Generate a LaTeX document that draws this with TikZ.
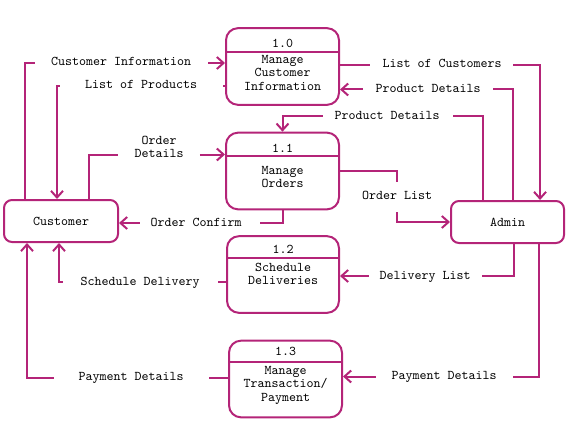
\documentclass[tikz,border=0pt]{standalone}
\usetikzlibrary{arrows.meta,calc}
\definecolor{dfd}{RGB}{180,36,120}
\begin{document}
\begin{tikzpicture}[x=0.75pt,y=-0.75pt,
  every node/.style={font=\ttfamily\fontsize{10}{10.1}\selectfont, text=black},
  procbox/.style={draw=dfd, line width=1.5pt, rounded corners=9pt, fill=white, minimum width=84.75pt, minimum height=57.5pt, inner sep=0pt},
  entbox/.style={draw=dfd, line width=1.5pt, rounded corners=6pt, fill=white, minimum height=31.5pt, inner sep=0pt},
  flow/.style={draw=dfd, line width=1.5pt},
  arr/.style={flow, -{Straight Barb[length=5pt,width=9pt]}},
  lbl/.style={inner sep=0pt, text height=6pt, text depth=1.5pt, align=center},
  txt/.style={inner sep=0pt, align=center}]
\useasboundingbox (0,0) rectangle (578,428);

% processes
\node[procbox] (p10) at (282.5,66.5) {};
\node[procbox] (p11) at (282.5,171) {};
\node[procbox, minimum width=84pt] (p12) at (283,274.5) {};
\node[procbox] (p13) at (285.5,379) {};
\draw[flow] ([yshift=-18.75pt]p10.north west) -- ([yshift=-18.75pt]p10.north east);
\draw[flow] ([yshift=-18pt]p11.north west) -- ([yshift=-18pt]p11.north east);
\draw[flow] ([yshift=-17.25pt]p12.north west) -- ([yshift=-17.25pt]p12.north east);
\draw[flow] ([yshift=-16.5pt]p13.north west) -- ([yshift=-16.5pt]p13.north east);
\node[txt] (n10) at (282.5,43) {1.0};
\node[txt] (n11) at (282.5,148) {1.1};
\node[txt] (n12) at (283,249) {1.2};
\node[txt] (n13) at (285.5,351) {1.3};
\node[txt] (t10) at (282.5,72.5) {Manage\\Customer\\Information};
\node[txt] (t11) at (282.5,177) {Manage\\Orders};
\node[txt] (t12) at (283,274) {Schedule\\Deliveries};
\node[txt] (t13) at (285.5,385) {Manage\\Transaction/\\Payment};

% entities
\node[entbox, minimum width=85.5pt] (cust) at (61,221) {Customer};
\node[entbox, minimum width=84.75pt] (admin) at (507.5,222) {Admin};

% labels
\node[lbl] (ci) at (121,63) {Customer Information};
\node[lbl] (lop) at (141,86) {List of Products};
\node[lbl] (od) at (159,154.5) {Order\\Details};
\node[lbl] (oc) at (196,223) {Order Confirm};
\node[lbl] (loc) at (442,65) {List of Customers};
\node[lbl] (pdu) at (428,89.5) {Product Details};
\node[lbl] (pdl) at (387,116) {Product Details};
\node[lbl] (ol) at (397,196) {Order List};
\node[lbl] (dl) at (425,276) {Delivery List};
\node[lbl] (pdr) at (444,376.5) {Payment Details};
\node[lbl] (sd) at (140,282) {Schedule Delivery};
\node[lbl] (pdlft) at (131,377.5) {Payment Details};

% flows
\draw[flow] ([xshift=-27pt]cust.north) |- ([xshift=-12pt]ci.west);
\draw[arr] ([xshift=12.75pt]ci.east) -- (ci.east -| p10.west);

\draw[flow] (lop.east -| p10.west) -- ([xshift=19pt]lop.east);
\draw[arr] ([xshift=-18.75pt]lop.west) -| ([xshift=-3pt]cust.north);

\draw[flow] ([xshift=21pt]cust.north) |- ([xshift=-12.4pt]od.west);
\draw[arr] ([xshift=12pt]od.east) -- (od.east -| p11.west);

\draw[flow] (p11.south) |- ([xshift=13.9pt]oc.east);
\draw[arr] ([xshift=-7.9pt]oc.west) -- (oc.west -| cust.east);

\draw[flow] (loc.west -| p10.east) -- ([xshift=-9.4pt]loc.west);
\draw[arr] ([xshift=8.6pt]loc.east) -| ([xshift=24.4pt]admin.north);

\draw[flow] ([xshift=4.1pt]admin.north) |- ([xshift=9.4pt]pdu.east);
\draw[arr] ([xshift=-9.4pt]pdu.west) -- (pdu.west -| p10.east);

\draw[flow] ([xshift=-18.4pt]admin.north) |- ([xshift=10.1pt]pdl.east);
\draw[arr] ([xshift=-8.6pt]pdl.west) -| (p11.north);

\draw[flow] (p11.east) -| ([yshift=6.75pt]ol.north);
\draw[arr] ([yshift=-8.25pt]ol.south) |- (admin.west);

\draw[flow] ([xshift=4.9pt]admin.south) |- ([xshift=8.6pt]dl.east);
\draw[arr] ([xshift=-7.9pt]dl.west) -- (dl.west -| p12.east);

\draw[flow] ([xshift=23.6pt]admin.south) |- ([xshift=12.4pt]pdr.east);
\draw[arr] ([xshift=-11.6pt]pdr.west) -- (pdr.west -| p13.east);

\draw[flow] (sd.east -| p12.west) -- ([xshift=13.9pt]sd.east);
\draw[arr] ([xshift=-13.1pt]sd.west) -| ([xshift=-1.5pt]cust.south);

\draw[flow] (pdlft.east -| p13.west) -- ([xshift=19.1pt]pdlft.east);
\draw[arr] ([xshift=-18.4pt]pdlft.west) -| ([xshift=-25.5pt]cust.south);
\end{tikzpicture}
\end{document}
